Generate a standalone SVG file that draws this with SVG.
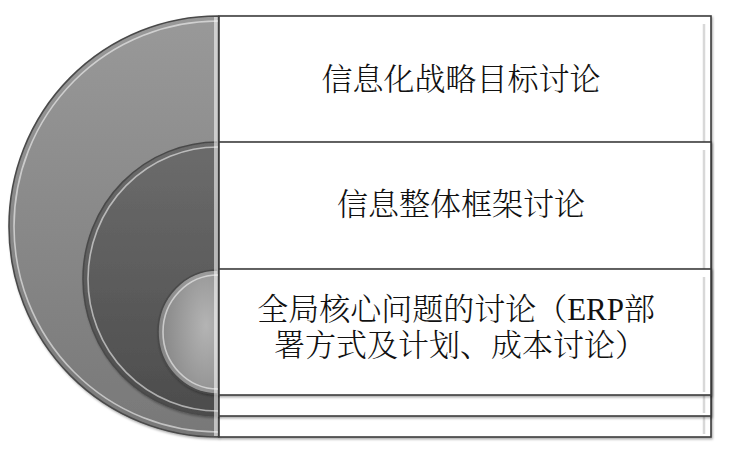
<svg xmlns="http://www.w3.org/2000/svg" width="750" height="454" viewBox="0 0 750 454">
  <style>
    .rect { fill: #ffffff; stroke: #3c3c3c; stroke-width: 1.6; }
    .edge { stroke: #d8d8d8; stroke-width: 2.5; fill: none; }
    .arc-out { stroke: #4a4a4a; stroke-width: 1.6; }
    .hl { fill: none; stroke: #ffffff; stroke-opacity: 0.55; stroke-width: 1.6; }
    .lbl { font-family: "Liberation Serif", "Noto Serif CJK SC", "Noto Sans CJK SC", serif; font-size: 31px; font-weight: 300; fill: #111111; text-anchor: middle; }
  </style>
  <defs>
    <linearGradient id="gOuter" x1="0" y1="0" x2="0" y2="1">
      <stop offset="0" stop-color="#999999"/>
      <stop offset="1" stop-color="#787878"/>
    </linearGradient>
    <linearGradient id="gMid" x1="0" y1="0" x2="0" y2="1">
      <stop offset="0" stop-color="#6c6c6c"/>
      <stop offset="1" stop-color="#4c4c4c"/>
    </linearGradient>
    <radialGradient id="gIn" cx="0.8" cy="0.45" r="0.9">
      <stop offset="0" stop-color="#b4b4b4"/>
      <stop offset="1" stop-color="#7e7e7e"/>
    </radialGradient>
    <filter id="sh" x="-5%" y="-5%" width="115%" height="115%">
      <feDropShadow dx="1" dy="1.5" stdDeviation="1.2" flood-color="#000000" flood-opacity="0.35"/>
    </filter>
  </defs>

  <g id="node-1">
    <path d="M218,16 A209,210.5 0 0 0 218,437 Z" fill="url(#gOuter)" class="arc-out" filter="url(#sh)"/>
    <path d="M218,21 A204,205.5 0 0 0 218,432" class="hl"/>
    <rect x="219" y="16" width="492" height="421" class="rect" filter="url(#sh)"/>
    <line x1="704" y1="24" x2="704" y2="434" class="edge"/>
    <text x="461" y="90" class="lbl">信息化战略目标讨论</text>
  </g>

  <g id="node-2">
    <path d="M218,142 A135,137 0 0 0 218,416 Z" fill="url(#gMid)" class="arc-out" filter="url(#sh)"/>
    <path d="M218,147 A130,132 0 0 0 218,411" class="hl"/>
    <rect x="219" y="142" width="492" height="274" class="rect" filter="url(#sh)"/>
    <line x1="704" y1="150" x2="704" y2="413" class="edge"/>
    <text x="461" y="215" class="lbl">信息整体框架讨论</text>
  </g>

  <g id="node-3">
    <path d="M218,270 A60,62 0 0 0 218,394 Z" fill="url(#gIn)" class="arc-out" filter="url(#sh)"/>
    <path d="M218,275 A55,57 0 0 0 218,389" class="hl"/>
    <rect x="219" y="269" width="492" height="126" class="rect" filter="url(#sh)"/>
    <line x1="704" y1="277" x2="704" y2="392" class="edge"/>
    <text class="lbl">
      <tspan x="460" y="320">全局核心问题的讨论（ERP部</tspan>
      <tspan x="460" y="356">署方式及计划、成本讨论）</tspan>
    </text>
  </g>

  <rect id="bevel" x="214" y="17" width="4" height="419" fill="#ffffff" fill-opacity="0.55"/>

  <g id="connectors"/>
</svg>
